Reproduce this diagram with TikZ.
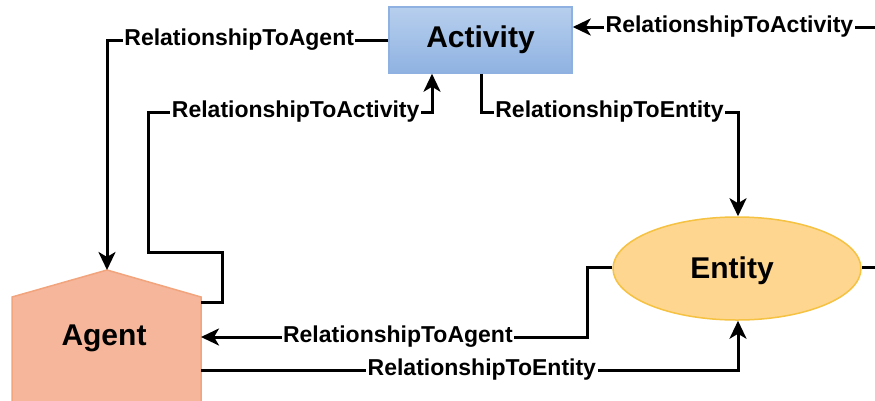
\documentclass[tikz,border=0pt]{standalone}
\usepackage{fontspec}
\setmainfont{Liberation Sans}
\usetikzlibrary{shapes.geometric,arrows.meta,calc}

\definecolor{actTop}{HTML}{B7CFEE}
\definecolor{actBot}{HTML}{8FB2E1}
\definecolor{actLine}{HTML}{8EB1E2}
\definecolor{entFill}{HTML}{FFD68F}
\definecolor{entLine}{HTML}{F5C242}
\definecolor{agtFill}{HTML}{F5B69C}
\definecolor{agtLine}{HTML}{F2A47C}

\tikzset{
  conn/.style={line width=3pt, -{Stealth[length=18pt,width=17pt,inset=5pt]}},
  plain/.style={line width=3pt},
  lbl/.style={fill=white, inner sep=1.5pt, font=\bfseries\fontsize{23}{25}\selectfont},
  title/.style={font=\bfseries\fontsize{30}{32}\selectfont},
  actbox/.style={title, draw=actLine, line width=1.5pt, top color=actTop, bottom color=actBot,
    minimum width=183pt, minimum height=66pt, inner sep=0pt},
  entbox/.style={title, ellipse, draw=entLine, line width=1.5pt, fill=entFill,
    minimum width=248pt, minimum height=103pt, inner sep=0pt},
  agtshape/.style={draw=agtLine, line width=1.5pt, fill=agtFill},
}

\begin{document}
\begin{tikzpicture}[x=1pt,y=-1pt]
\useasboundingbox (0,0) rectangle (875,400);

% nodes
\node[actbox] (act) at (480.5,40) {Activity};
\node[entbox] (ent) at (737,268.5) {};
\node[title] (entlbl) at (732,271) {Entity};

\path[agtshape] (12,297) -- (107,270) -- (201,297) -- (201,430) -- (12,430) -- cycle;
\node[title] (agt) at (104,338) {Agent};

% anchor points on the agent outline and the frame edge
\coordinate (agtop) at (107,270);
\coordinate (agr1) at (201,302);
\coordinate (agr2) at (201,337);
\coordinate (agr3) at (201,370);
\coordinate (edgeA) at (880,27);
\coordinate (edgeE) at (880,267);

% Activity -> Agent
\draw[conn] (act.west) -- node[lbl,pos=0.53]{RelationshipToAgent} (107,40) -- (agtop);

% Agent -> Activity
\draw[conn] (agr1) -- (222,302) -- (222,252) -- (148,252) -- (148,112)
  -- node[lbl,pos=0.52]{RelationshipToActivity} (432,112) -- ($(act.south)+(-48.5,0)$);

% Activity -> Entity
\draw[conn] ($(act.south)+(0.5,0)$) -- (481,112)
  -- node[lbl,pos=0.5]{RelationshipToEntity} (738,112) -- ($(ent.north)+(1,0)$);

% incoming to Activity from the right
\draw[conn] (edgeA) -- node[lbl,pos=0.49]{RelationshipToActivity} ($(act.east)+(0,-13)$);

% Entity -> Agent
\draw[conn] ($(ent.west)+(0,-1.5)$) -- (587,267) -- (587,337)
  -- node[lbl,pos=0.49]{RelationshipToAgent} (agr2);

% Agent -> Entity
\draw[conn] (agr3) -- node[lbl,pos=0.523]{RelationshipToEntity} (738,370) -- ($(ent.south)+(1,0)$);

% outgoing from Entity to the right
\draw[plain] ($(ent.east)+(0,-1.5)$) -- (edgeE);
\end{tikzpicture}
\end{document}
